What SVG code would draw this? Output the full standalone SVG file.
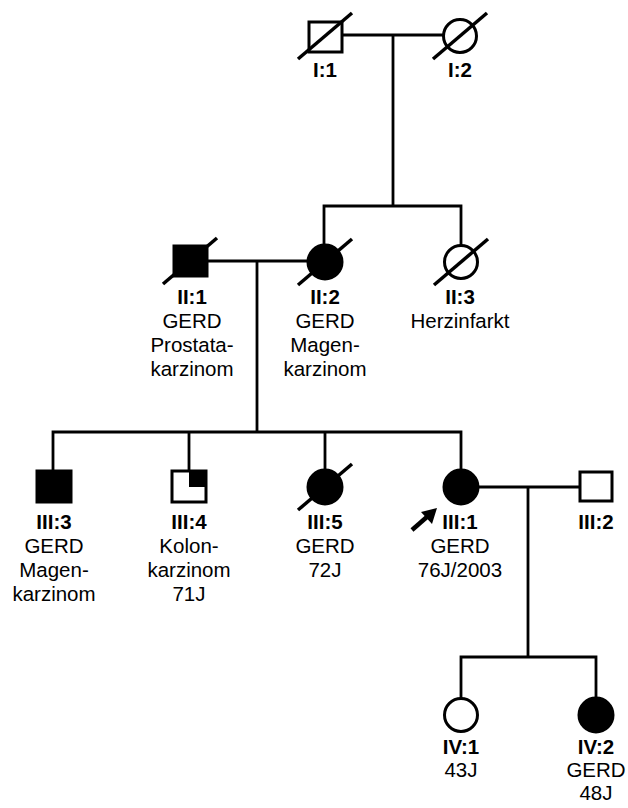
<svg xmlns="http://www.w3.org/2000/svg" width="628" height="808" viewBox="0 0 628 808">
<style>
.ln{stroke:#000;stroke-width:2.8;fill:none;stroke-linecap:square}
.sh{stroke:#000;stroke-width:3;fill:#fff}
.af{fill:#000}
.dg{stroke:#000;stroke-width:3.5;stroke-linecap:butt}
text{font-family:"Liberation Sans",Arial,sans-serif;font-size:20.5px;text-anchor:middle;fill:#000}
.id{font-weight:bold}
</style>
<rect width="628" height="808" fill="#fff"/>
<g id="connectors">
<path class="ln" d="M342 35H443M393 35V206M324 206H461M324 206V244M461 206V244"/>
<path class="ln" d="M208 261H307M257 261V432M53 432H461M53 432V470M189 432V470M325 432V469M461 432V469"/>
<path class="ln" d="M480 487H578M528 487V657M461 657H596M461 657V697M596 657V697"/>
</g>
<g id="I1"><rect class="sh" x="309" y="22" width="33" height="30"/><line class="dg" x1="298" y1="59" x2="352" y2="13"/><text class="id" x="325" y="77">I:1</text></g>
<g id="I2"><circle class="sh" cx="460" cy="36" r="16.5"/><line class="dg" x1="433" y1="59" x2="487" y2="13"/><text class="id" x="460" y="77">I:2</text></g>
<g id="II1"><rect class="sh af" x="174" y="246" width="33" height="30"/><line class="dg" x1="163" y1="284" x2="217" y2="238"/><text class="id" x="192" y="304">II:1</text><text x="192" y="328">GERD</text><text x="192" y="352">Prostata-</text><text x="192" y="376">karzinom</text></g>
<g id="II2"><circle class="sh af" cx="325" cy="262" r="17"/><line class="dg" x1="298" y1="285" x2="352" y2="239"/><text class="id" x="325" y="304">II:2</text><text x="325" y="328">GERD</text><text x="325" y="352">Magen-</text><text x="325" y="376">karzinom</text></g>
<g id="II3"><circle class="sh" cx="461" cy="262" r="16.5"/><line class="dg" x1="434" y1="285" x2="488" y2="239"/><text class="id" x="460" y="304">II:3</text><text x="460" y="328">Herzinfarkt</text></g>
<g id="III3"><rect class="sh af" x="37" y="471" width="34" height="31"/><text class="id" x="54" y="529">III:3</text><text x="54" y="553">GERD</text><text x="54" y="577">Magen-</text><text x="54" y="601">karzinom</text></g>
<g id="III4"><rect class="sh" x="172" y="471" width="34" height="31"/><rect class="af" x="189" y="471" width="17" height="16"/><text class="id" x="189" y="529">III:4</text><text x="189" y="553">Kolon-</text><text x="189" y="577">karzinom</text><text x="189" y="601">71J</text></g>
<g id="III5"><circle class="sh af" cx="325" cy="487" r="17"/><line class="dg" x1="298" y1="510" x2="352" y2="464"/><text class="id" x="325" y="529">III:5</text><text x="325" y="553">GERD</text><text x="325" y="577">72J</text></g>
<g id="III1"><circle class="sh af" cx="461" cy="487" r="17"/><line x1="412" y1="530" x2="428" y2="516" stroke="#000" stroke-width="4.5"/><polygon class="af" points="437,508 432,524 421,512"/><text class="id" x="460" y="529">III:1</text><text x="460" y="553">GERD</text><text x="460" y="577">76J/2003</text></g>
<g id="III2"><rect class="sh" x="580" y="472" width="32" height="29"/><text class="id" x="596" y="529">III:2</text></g>
<g id="IV1"><circle class="sh" cx="461" cy="715" r="16.5"/><text class="id" x="461" y="754">IV:1</text><text x="461" y="777">43J</text></g>
<g id="IV2"><circle class="sh af" cx="596" cy="715" r="17"/><text class="id" x="596" y="754">IV:2</text><text x="596" y="777">GERD</text><text x="596" y="800">48J</text></g>
</svg>
